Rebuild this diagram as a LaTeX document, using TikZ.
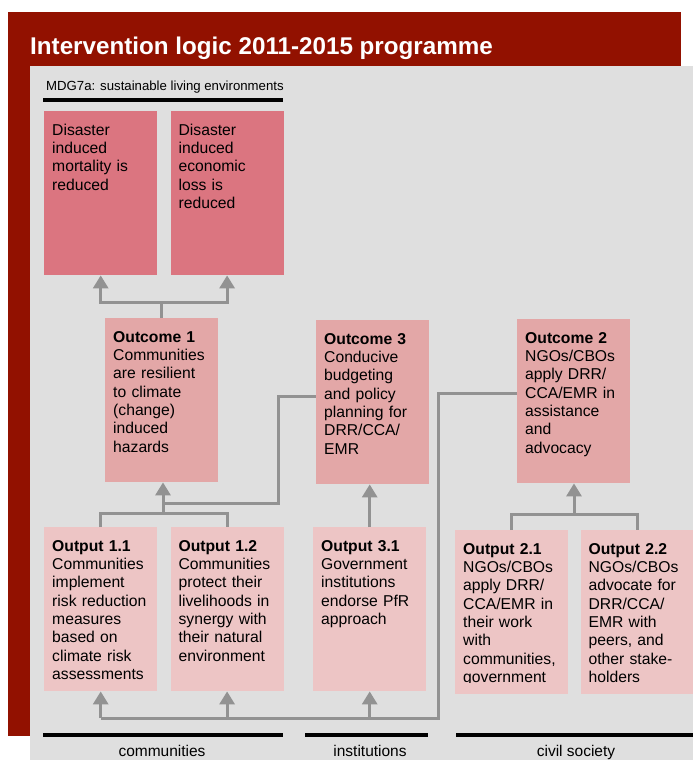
\documentclass[tikz,border=0pt]{standalone}
\usepackage{fontspec}
\setmainfont{Liberation Sans}
\usetikzlibrary{arrows.meta, positioning, calc}

\definecolor{hdrred}{HTML}{921100}
\definecolor{panelgray}{HTML}{DFDFDF}
\definecolor{goalpink}{HTML}{DB7580}
\definecolor{outcomepink}{HTML}{E3A7A7}
\definecolor{outputpink}{HTML}{EDC5C5}
\definecolor{linkgray}{HTML}{929292}

\begin{document}
\begin{tikzpicture}[
  x=1pt, y=-1pt,
  every node/.style={font=\fontsize{15.7}{18.3}\selectfont},
  box/.style={rectangle, anchor=north west, inner xsep=8pt, inner ysep=0pt,
              text width=97pt, align=left, text height=24pt, text depth=140pt},
  goal/.style={box, fill=goalpink},
  outcome/.style={box, fill=outcomepink},
  output/.style={box, fill=outputpink},
  link/.style={draw=linkgray, line width=3pt},
  arrow/.style={link, -{Triangle[width=15pt,length=13pt]}},
  rule/.style={line width=3.5pt},
  group/.style={anchor=base, font=\fontsize{15.5}{18}\selectfont}
]
  % frame: red header and grey panel
  \useasboundingbox (0,0) rectangle (693,760);
  \fill[white] (0,0) rectangle (693,760);
  \fill[hdrred] (8,12) rectangle (681,736);
  \fill[panelgray] (30,66) rectangle (693,760);

  \node[anchor=base west, inner sep=0pt, text=white,
        font=\fontsize{24.2}{28}\selectfont\bfseries] (title) at (30,55)
        {Intervention logic 2011-2015 programme};
  \node[anchor=base west, inner sep=0pt, font=\fontsize{13.2}{15}\selectfont]
        (mdg) at (46,90) {MDG7a: sustainable living environments};
  \draw[rule, line width=4pt] (43,100) -- (283,100);

  % goals
  \node[goal] (dis1) at (44,111) {Disaster\\induced\\mortality is\\reduced};
  \node[goal, right=13pt of dis1] (dis2)
        {Disaster\\induced\\economic\\loss is\\reduced};

  % outcomes
  \node[outcome] (oc1) at (105,318)
        {\textbf{Outcome 1}\\Communities\\are resilient\\to climate\\(change)\\induced\\hazards};
  \node[outcome] (oc3) at (316,320)
        {\textbf{Outcome 3}\\Conducive\\budgeting\\and policy\\planning for\\DRR/CCA/\\EMR};
  \node[outcome] (oc2) at (517,319)
        {\textbf{Outcome 2}\\NGOs/CBOs\\apply DRR/\\CCA/EMR in\\assistance\\and\\advocacy};

  % outputs
  \node[output] (op11) at (44,527)
        {\textbf{Output 1.1}\\Communities\\implement\\risk reduction\\measures\\based on\\climate risk\\assessments};
  \node[output, right=13pt of op11] (op12)
        {\textbf{Output 1.2}\\Communities\\protect their\\livelihoods in\\synergy with\\their natural\\environment};
  \node[output] (op31) at (313,527)
        {\textbf{Output 3.1}\\Government\\institutions\\endorse PfR\\approach};
  \node[output] (op21) at (455,530)
        {\textbf{Output 2.1}\\NGOs/CBOs\\apply DRR/\\CCA/EMR in\\their work\\with\\communities,\\government};
  \node[output, right=12pt of op21] (op22)
        {\textbf{Output 2.2}\\NGOs/CBOs\\advocate for\\DRR/CCA/\\EMR with\\peers, and\\other stake-\\holders};
  % text frame of output 2.1 cuts its last line
  \fill[outputpink] ([yshift=11pt]op21.south west) rectangle (op21.south east);

  % outcome 1 -> goals
  \draw[link] (oc1.north) -- ++(0,-16) coordinate (up1);
  \draw[arrow] (up1) -| (dis1.south);
  \draw[arrow] (up1) -| (dis2.south);

  % outputs 1.x -> outcome 1, side link to outcome 3
  \draw[link] (op11.north) -- ++(0,-14) -| (op12.north);
  \coordinate (j1) at (163,513);
  \coordinate (j2) at (163,503);
  \draw[arrow] (j1) -- (j1 |- oc1.south);
  \draw[link] (j2) -- ++(115,0) |- ([yshift=6pt]oc3.west);

  % output 3.1 -> outcome 3
  \draw[arrow] (op31.north) -- (op31.north |- oc3.south);

  % outputs 2.x -> outcome 2
  \draw[link] (op21.north) -- ++(0,-16) -| (op22.north);
  \coordinate (j3) at (574,514);
  \draw[arrow] (j3) -- (j3 |- oc2.south);

  % outcome 2 back to community and institution outputs
  \coordinate (bus) at (438,718);
  \draw[link] ([yshift=8pt]oc2.west) -| (bus) -- (bus -| op11.south);
  \foreach \out in {op11, op12, op31}
    \draw[arrow] (bus -| \out.south) -- (\out.south);

  % actor groups
  \draw[rule] (43,735) -- (283,735);
  \draw[rule] (305,735) -- (428,735);
  \draw[rule] (456,735) -- (693,735);
  \node[group] (comm) at (162,756) {communities};
  \node[group] (inst) at (370,756) {institutions};
  \node[group] (civil) at (576,756) {civil society};
\end{tikzpicture}
\end{document}
